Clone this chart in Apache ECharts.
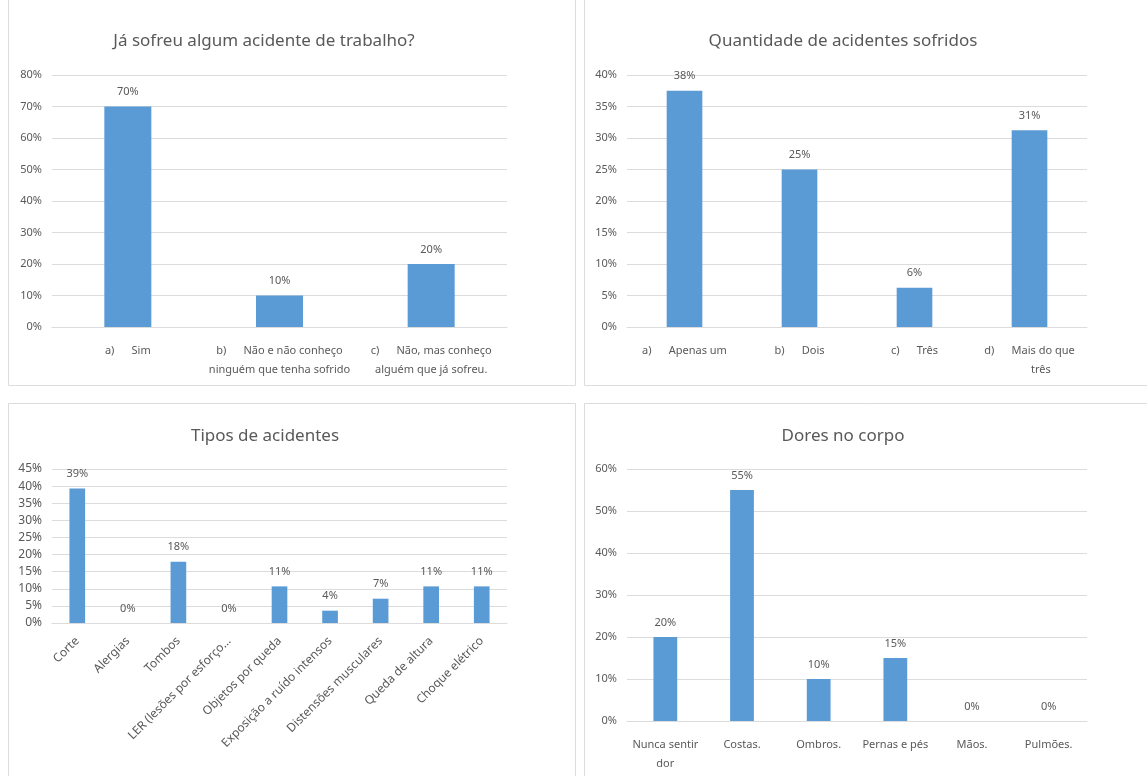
<!DOCTYPE html>
<html>
<head>
<meta charset="utf-8">
<script src="https://cdn.jsdelivr.net/npm/echarts@6/dist/echarts.min.js"></script>
<style>
  html, body { margin: 0; padding: 0; background: #ffffff; }
  #chart { width: 1147px; height: 776px; }
</style>
</head>
<body>
<div id="chart"></div>
<script>
// Survey results: four bar panels
const titles = [
  'Já sofreu algum acidente de trabalho?',
  'Quantidade de acidentes sofridos',
  'Tipos de acidentes',
  'Dores no corpo'
];

const acidenteCategorias = [
  'a)      Sim',
  'b)      Não e não conheço\nninguém que tenha sofrido',
  'c)      Não, mas conheço\nalguém que já sofreu.'
];
const acidenteValores = [0.70, 0.10, 0.20];

const quantidadeCategorias = [
  'a)      Apenas um',
  'b)      Dois',
  'c)      Três',
  'd)      Mais do que\n        três'
];
const quantidadeValores = [0.375, 0.25, 0.0625, 0.3125];

const tiposCategorias = [
  'Corte',
  'Alergias',
  'Tombos',
  'LER (lesões por esforço…',
  'Objetos por queda',
  'Exposição a ruído intensos',
  'Distensões musculares',
  'Queda de altura',
  'Choque elétrico'
];
const tiposValores = [0.393, 0, 0.179, 0, 0.107, 0.036, 0.071, 0.107, 0.107];

const doresCategorias = [
  'Nunca sentir\ndor',
  'Costas.',
  'Ombros.',
  'Pernas e pés',
  'Mãos.',
  'Pulmões.'
];
const doresValores = [0.20, 0.55, 0.10, 0.15, 0, 0];

const yMax = [0.8, 0.4, 0.45, 0.6];
const yStep = [0.1, 0.05, 0.05, 0.1];

const FONT = '"Noto Sans", sans-serif';
const TEXT = '#595959';
const GRID_LINE = '#dcdcdc';
const BAR = '#5B9BD5';

const pct = v => Math.round(v * 100) + '%';

const grids = [
  { left: 52, top: 75, width: 455, height: 252 },
  { left: 627, top: 75, width: 460, height: 252 },
  { left: 52, top: 469, width: 455, height: 154 },
  { left: 627, top: 469, width: 460, height: 252 }
];

const titlePos = [[264, 33], [843, 33], [265, 428], [843, 428]];

const cats = [acidenteCategorias, quantidadeCategorias, tiposCategorias, doresCategorias];
const vals = [acidenteValores, quantidadeValores, tiposValores, doresValores];

const xAxes = cats.map((c, i) => ({
  type: 'category',
  gridIndex: i,
  data: c,
  axisTick: { show: false },
  axisLine: { lineStyle: { color: GRID_LINE } },
  axisLabel: i === 2
    ? { rotate: 45, interval: 0, margin: 16, fontSize: 12, color: TEXT, fontFamily: FONT }
    : { interval: 0, margin: 14, fontSize: 11, lineHeight: 19, color: TEXT, fontFamily: FONT }
}));

const yAxes = yMax.map((m, i) => ({
  type: 'value',
  gridIndex: i,
  min: 0,
  max: m,
  interval: yStep[i],
  axisLine: { show: false },
  axisTick: { show: false },
  splitLine: { lineStyle: { color: GRID_LINE } },
  axisLabel: { formatter: pct, fontSize: i === 2 ? 12 : 11, color: TEXT, fontFamily: FONT, margin: 10 }
}));

const series = vals.map((v, i) => ({
  type: 'bar',
  xAxisIndex: i,
  yAxisIndex: i,
  data: v,
  barWidth: '31%',
  itemStyle: { color: BAR },
  label: {
    show: true,
    position: 'top',
    distance: 9,
    formatter: p => pct(p.value),
    fontSize: 11,
    color: TEXT,
    fontFamily: FONT
  }
}));

const title = titles.map((t, i) => ({
  text: t,
  left: titlePos[i][0],
  top: titlePos[i][1],
  textAlign: 'center',
  padding: 0,
  textStyle: { fontSize: 17, fontWeight: 'normal', color: TEXT, fontFamily: FONT }
}));

// Light frames around each panel
const frames = [
  [8, -5, 567, 390],
  [584, -5, 600, 390],
  [8, 403, 567, 400],
  [584, 403, 600, 400]
].map(r => ({
  type: 'rect',
  shape: { x: r[0] + 0.5, y: r[1] + 0.5, width: r[2], height: r[3] },
  style: { fill: 'none', stroke: GRID_LINE, lineWidth: 1 },
  silent: true,
  z: -1
}));

const chart = echarts.init(document.getElementById('chart'));
chart.setOption({
  backgroundColor: '#ffffff',
  animation: false,
  title,
  grid: grids,
  xAxis: xAxes,
  yAxis: yAxes,
  series,
  graphic: frames
});
</script>
</body>
</html>
